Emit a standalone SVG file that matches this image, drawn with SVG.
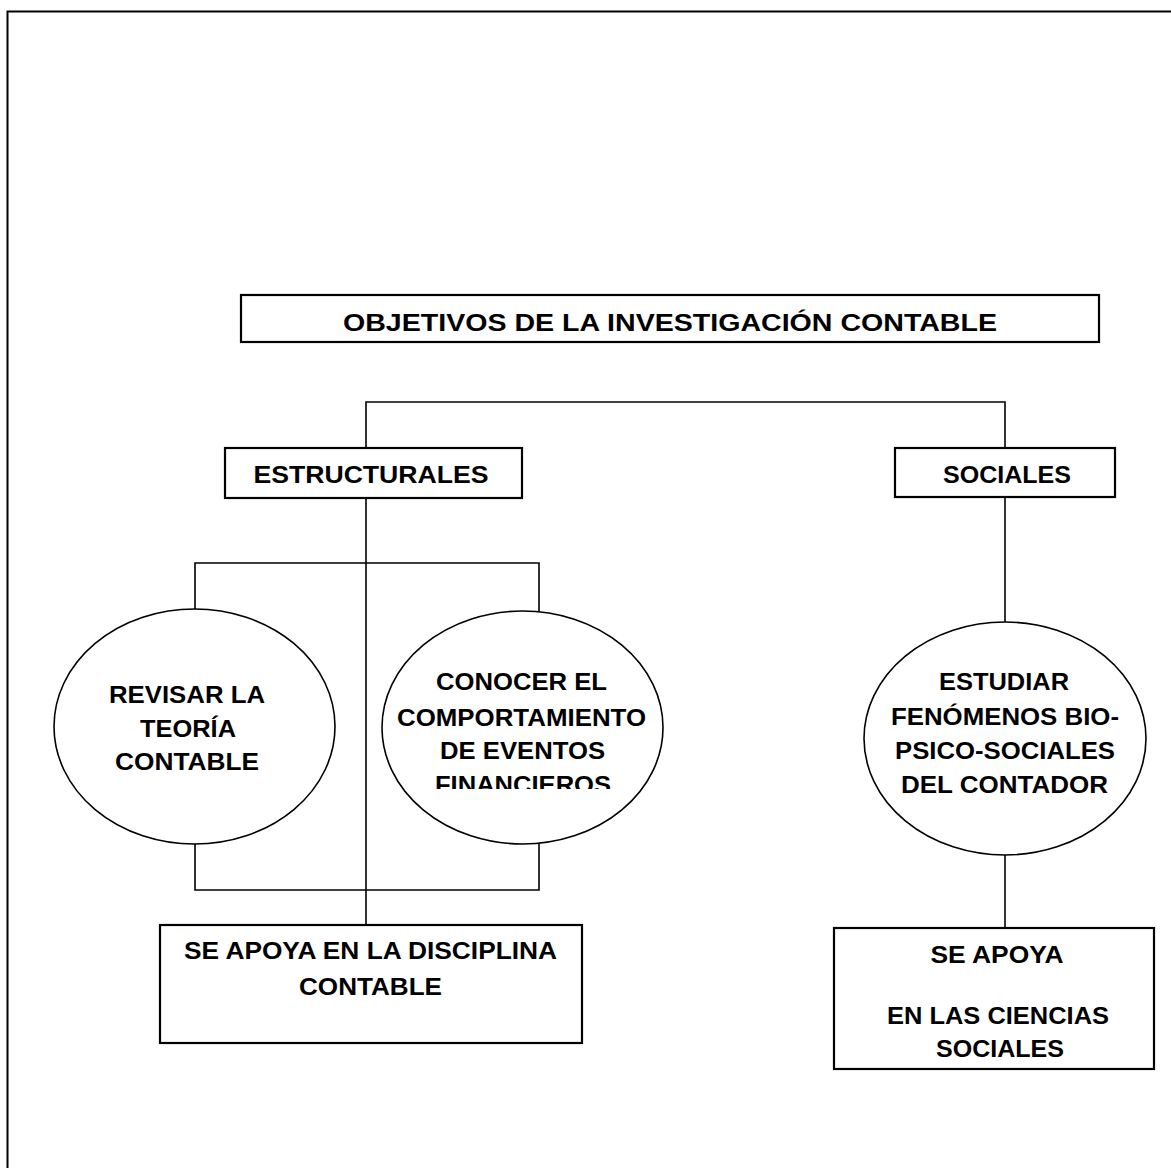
<svg xmlns="http://www.w3.org/2000/svg" width="1171" height="1168" viewBox="0 0 1171 1168">
<style>
.box{fill:#fff;stroke:#000;stroke-width:2.2}
.ell{fill:#fff;stroke:#000;stroke-width:1.6}
.ln{fill:none;stroke:#000;stroke-width:1.6}
text{font-family:"Liberation Sans",Arial,sans-serif;font-weight:bold;font-size:24px;text-anchor:middle;fill:#000}
</style>
<defs>
<clipPath id="clipFin"><rect x="380" y="600" width="290" height="189"/></clipPath>
</defs>
<rect width="1171" height="1168" fill="#fff"/>
<rect x="7.5" y="11.5" width="1200" height="1200" fill="none" stroke="#000" stroke-width="2"/>
<g id="connectors">
<polyline class="ln" points="366,448 366,402 1005,402 1005,448"/>
<line class="ln" x1="366" y1="498" x2="366" y2="925"/>
<polyline class="ln" points="195,612 195,563 539,563 539,614"/>
<polyline class="ln" points="195,842 195,890 539,890 539,842"/>
<line class="ln" x1="1005" y1="497" x2="1005" y2="624"/>
<line class="ln" x1="1005" y1="853" x2="1005" y2="928"/>
</g>
<g id="title">
<rect class="box" x="241" y="295" width="858" height="47"/>
<text x="670" y="331" textLength="654" lengthAdjust="spacingAndGlyphs">OBJETIVOS DE LA INVESTIGACIÓN CONTABLE</text>
</g>
<g id="estructurales">
<rect class="box" x="225" y="448" width="297" height="50"/>
<text x="371" y="483" textLength="235" lengthAdjust="spacingAndGlyphs">ESTRUCTURALES</text>
</g>
<g id="sociales">
<rect class="box" x="895" y="448" width="220" height="49"/>
<text x="1007" y="483" textLength="128" lengthAdjust="spacingAndGlyphs">SOCIALES</text>
</g>
<g id="revisar">
<ellipse class="ell" cx="194.5" cy="726.5" rx="140.5" ry="117.5"/>
<text x="187" y="703" textLength="156" lengthAdjust="spacingAndGlyphs">REVISAR LA</text>
<text x="188" y="737" textLength="96" lengthAdjust="spacingAndGlyphs">TEORÍA</text>
<text x="187" y="770" textLength="144" lengthAdjust="spacingAndGlyphs">CONTABLE</text>
</g>
<g id="conocer">
<ellipse class="ell" cx="522.5" cy="727.5" rx="140.5" ry="116.5"/>
<text x="521.5" y="690" textLength="171" lengthAdjust="spacingAndGlyphs">CONOCER EL</text>
<text x="521.5" y="726" textLength="249" lengthAdjust="spacingAndGlyphs">COMPORTAMIENTO</text>
<text x="522.5" y="759" textLength="165" lengthAdjust="spacingAndGlyphs">DE EVENTOS</text>
<text x="523" y="793" textLength="176" lengthAdjust="spacingAndGlyphs" clip-path="url(#clipFin)">FINANCIEROS</text>
</g>
<g id="estudiar">
<ellipse class="ell" cx="1005" cy="738.5" rx="141" ry="116.5"/>
<text x="1004" y="690" textLength="130" lengthAdjust="spacingAndGlyphs">ESTUDIAR</text>
<text x="1005" y="725" textLength="228" lengthAdjust="spacingAndGlyphs">FENÓMENOS BIO-</text>
<text x="1005" y="759" textLength="220" lengthAdjust="spacingAndGlyphs">PSICO-SOCIALES</text>
<text x="1004.5" y="793" textLength="207" lengthAdjust="spacingAndGlyphs">DEL CONTADOR</text>
</g>
<g id="apoya-disciplina">
<rect class="box" x="160" y="925" width="422" height="118"/>
<text x="370.5" y="959" textLength="373" lengthAdjust="spacingAndGlyphs">SE APOYA EN LA DISCIPLINA</text>
<text x="370.5" y="995" textLength="143" lengthAdjust="spacingAndGlyphs">CONTABLE</text>
</g>
<g id="apoya-ciencias">
<rect class="box" x="834" y="928" width="320" height="141"/>
<text x="997" y="963" textLength="133" lengthAdjust="spacingAndGlyphs">SE APOYA</text>
<text x="998" y="1024" textLength="222" lengthAdjust="spacingAndGlyphs">EN LAS CIENCIAS</text>
<text x="1000" y="1057" textLength="128" lengthAdjust="spacingAndGlyphs">SOCIALES</text>
</g>
</svg>
